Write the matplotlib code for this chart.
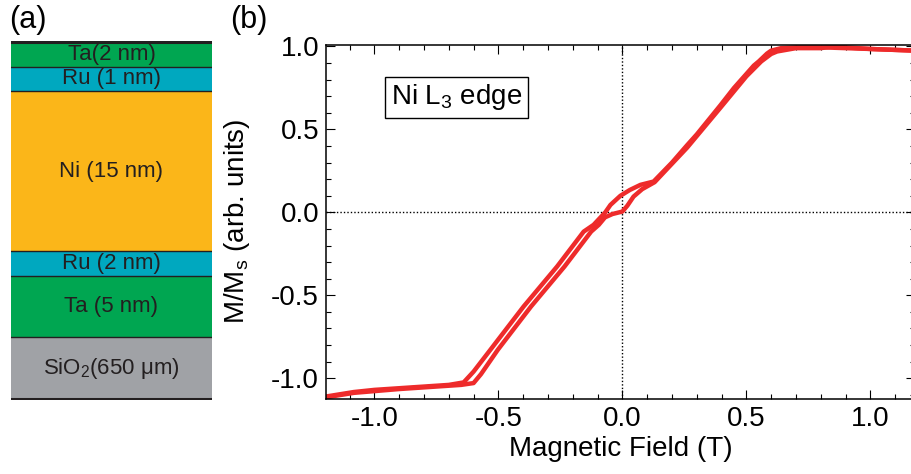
import matplotlib
matplotlib.use('Agg')
import matplotlib.pyplot as plt
from matplotlib.ticker import MultipleLocator

plt.rcParams['font.family'] = ['Liberation Sans', 'DejaVu Sans']
plt.rcParams['mathtext.fontset'] = 'custom'
plt.rcParams['mathtext.rm'] = 'Liberation Sans'
plt.rcParams['mathtext.it'] = 'Liberation Sans'

# layer stack, panel (a), top to bottom
layer_names = ['Ta(2 nm)', 'Ru (1 nm)', 'Ni (15 nm)', 'Ru (2 nm)', 'Ta (5 nm)', 'SiO$_2$(650 μm)']
layer_heights = [1, 1, 6.5, 1, 2.5, 2.5]
layer_colors = ['#00a651', '#00a8bf', '#fbb619', '#00a8bf', '#00a651', '#a0a2a6']

# hysteresis loop, panel (b)
field_down = [1.18, 1.0, 0.90, 0.80, 0.70, 0.64, 0.60, 0.583, 0.55, 0.53, 0.45, 0.395,
              0.30, 0.261, 0.20, 0.126, 0.073, 0.03, -0.008, -0.048, -0.069, -0.116,
              -0.156, -0.263, -0.398, -0.532, -0.60, -0.64, -0.70, -0.80, -0.90, -1.0,
              -1.083, -1.195]
m_down = [0.975, 0.985, 0.99, 0.995, 0.995, 0.99, 0.975, 0.957, 0.91, 0.885, 0.75, 0.645,
          0.47, 0.405, 0.30, 0.186, 0.166, 0.135, 0.10, 0.045, 0.0, -0.075,
          -0.116, -0.326, -0.567, -0.828, -0.96, -1.025, -1.04, -1.05, -1.06, -1.07,
          -1.083, -1.11]
field_up = [-1.195, -1.083, -0.90, -0.75, -0.65, -0.60, -0.57, -0.502, -0.368, -0.233,
            -0.126, -0.095, -0.07, -0.04, 0.0, 0.02, 0.045, 0.08, 0.13, 0.261, 0.395,
            0.50, 0.56, 0.60, 0.624, 0.70, 0.80, 0.85, 1.0, 1.18]
m_up = [-1.115, -1.088, -1.065, -1.05, -1.04, -1.029, -0.975, -0.828, -0.567, -0.326,
        -0.116, -0.075, -0.03, -0.01, 0.005, 0.04, 0.095, 0.14, 0.182, 0.39, 0.63,
        0.82, 0.91, 0.955, 0.97, 0.99, 0.99, 1.0, 0.985, 0.975]

W, H = 912, 474
fig = plt.figure(figsize=(W / 100, H / 100), dpi=100)

# ---- panel (a)
axa = fig.add_axes([11 / W, 1 - 400 / H, 201 / W, 359.3 / H])
total = sum(layer_heights)
top = total
for name, h, c in zip(layer_names, layer_heights, layer_colors):
    axa.bar(0, h, width=1, bottom=top - h, color=c, edgecolor='none', align='edge')
    axa.text(0.5, top - h / 2, name, ha='center', va='center', fontsize=16, color='#231f20')
    top -= h
bounds = [total]
for h in layer_heights:
    bounds.append(bounds[-1] - h)
for i, b in enumerate(bounds):
    lw = 2.2 if i in (0, len(bounds) - 1) else 1.0
    axa.axhline(b, color='#231f20', lw=lw)
axa.set_xlim(0, 1)
axa.set_ylim(-0.05, total + 0.05)
axa.axis('off')
fig.text(9 / W, 1 - 20 / H, '(a)', fontsize=22, ha='left', va='center')
fig.text(230 / W, 1 - 20 / H, '(b)', fontsize=22, ha='left', va='center')

# ---- panel (b)
ax = fig.add_axes([326 / W, 1 - 399 / H, 589 / W, 354.5 / H])
red = '#ee2b2b'
ax.plot(field_down, m_down, color=red, lw=3.2, solid_joinstyle='round')
ax.plot(field_up, m_up, color=red, lw=3.2, solid_joinstyle='round')
ax.axvline(0, color='black', lw=1, ls=(0, (1, 1.5)), zorder=0)
ax.axhline(0, color='black', lw=1, ls=(0, (1, 1.5)), zorder=0)
ax.set_xlim(-1.195, 1.18)
ax.set_ylim(-1.125, 1.012)
ax.xaxis.set_major_locator(MultipleLocator(0.5))
ax.xaxis.set_minor_locator(MultipleLocator(0.1))
ax.yaxis.set_major_locator(MultipleLocator(0.5))
ax.yaxis.set_minor_locator(MultipleLocator(0.1))
ax.xaxis.set_major_formatter(lambda v, p: f'{v:.1f}')
ax.yaxis.set_major_formatter(lambda v, p: f'{v:.1f}')
ax.tick_params(which='both', direction='in', top=True, right=True, labelsize=20, width=0.8)
ax.tick_params(which='major', length=6.5, pad=5)
ax.tick_params(which='minor', length=3.6)
for s in ax.spines.values():
    s.set_linewidth(1.1)
ax.set_xlabel('Magnetic Field (T)', fontsize=20, labelpad=3)
ax.set_ylabel('M/M$_\\mathrm{s}$ (arb. units)', fontsize=20, labelpad=14)
ax.text(-0.669, 0.693, 'Ni L$_3$ edge', fontsize=20, ha='center', va='center',
        bbox=dict(boxstyle='square,pad=0.2', fc='white', ec='black', lw=1))

fig.savefig('out.png', dpi=100)
